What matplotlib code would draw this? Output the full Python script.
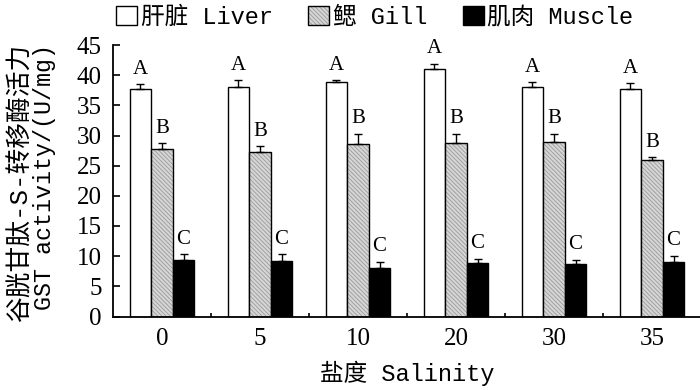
#!/usr/bin/env python3
"""
GST activity of liver, gill and muscle at different salinities.

Grouped bar chart with upper error bars and significance letters.
"""

import matplotlib
matplotlib.use('Agg')
import matplotlib.pyplot as plt
from matplotlib.patches import Patch
import numpy as np

# Data
salinity = ['0', '5', '10', '20', '30', '35']
liver = [37.7, 38.1, 38.8, 41.0, 38.0, 37.7]
liver_err = [0.8, 1.1, 0.4, 0.9, 0.8, 1.0]
gill = [27.7, 27.2, 28.6, 28.7, 29.0, 25.9]
gill_err = [1.0, 1.0, 1.7, 1.6, 1.3, 0.5]
muscle = [9.3, 9.2, 8.0, 8.8, 8.7, 9.0]
muscle_err = [1.0, 1.1, 1.1, 0.8, 0.7, 1.1]
letters = ['A', 'B', 'C']

series_labels = ['肝脏 Liver', '鳃 Gill', '肌肉 Muscle']
xlabel = '盐度 Salinity'
ylabel_cn = '谷胱甘肽-S-转移酶活力'
ylabel_en = 'GST activity/(U/mg)'

MIXED = ['Liberation Mono', 'Noto Sans CJK SC']
SERIF = ['Liberation Serif', 'DejaVu Serif']
GILL_FACE = '#d6d6d6'
GILL_HATCH = '#9a9a9a'
HATCH = '\\' * 8


def make_plot():
    plt.rcParams['hatch.linewidth'] = 0.6

    fig = plt.figure(figsize=(7, 3.9), dpi=100)
    ax = fig.add_axes([113 / 700, 73.5 / 390, 588 / 700, 271.5 / 390])

    x = np.arange(len(salinity))
    w = 0.22
    ekw = dict(ecolor='black', elinewidth=1.0, capsize=2.6, capthick=1.0)

    # liver: white
    ax.bar(x - w, liver, w, color='white', edgecolor='black', linewidth=1.0, zorder=2)
    ax.errorbar(x - w, liver, yerr=[np.zeros(len(x)), liver_err], fmt='none', zorder=3, **ekw)

    # gill: grey with fine hatch, outline drawn on top
    ax.bar(x, gill, w, color=GILL_FACE, edgecolor=GILL_HATCH, linewidth=0, hatch=HATCH, zorder=2)
    ax.bar(x, gill, w, fill=False, edgecolor='black', linewidth=1.0, zorder=2)
    ax.errorbar(x, gill, yerr=[np.zeros(len(x)), gill_err], fmt='none', zorder=3, **ekw)

    # muscle: black
    ax.bar(x + w, muscle, w, color='black', edgecolor='black', linewidth=1.0, zorder=2)
    ax.errorbar(x + w, muscle, yerr=[np.zeros(len(x)), muscle_err], fmt='none', zorder=3, **ekw)

    # significance letters above the caps
    for off, vals, errs, let in zip([-w, 0, w], [liver, gill, muscle],
                                    [liver_err, gill_err, muscle_err], letters):
        for xi, v, e in zip(x, vals, errs):
            ax.annotate(let, (xi + off, v + e), xytext=(0, 7.5), textcoords='offset points',
                        ha='center', va='baseline', fontsize=15, family=SERIF)

    # axes
    ax.set_xlim(-0.5, 5.5)
    ax.set_ylim(0, 45)
    ax.set_yticks(np.arange(0, 46, 5))
    ax.set_xticks(x)
    ax.set_xticklabels(salinity)
    ax.set_xticks(x[:-1] + 0.5, minor=True)
    ax.tick_params(axis='x', which='major', length=0, pad=8)
    ax.tick_params(axis='x', which='minor', direction='in', length=3, width=1.2)
    ax.tick_params(axis='y', direction='in', length=5, width=1.2, pad=8)
    for lab in ax.get_xticklabels() + ax.get_yticklabels():
        lab.set_family(SERIF)
        lab.set_fontsize(18)
    for side in ['top', 'right']:
        ax.spines[side].set_visible(False)
    for side in ['left', 'bottom']:
        ax.spines[side].set_linewidth(1.3)

    ax.set_xlabel(xlabel, family=MIXED, fontsize=17, labelpad=8)
    fig.text(20 / 700, 1 - 183 / 390, ylabel_cn, rotation=90, ha='center', va='center',
             family=MIXED, fontsize=18.5)
    fig.text(45 / 700, 1 - 177 / 390, ylabel_en, rotation=90, ha='center', va='center',
             family=MIXED, fontsize=16.8)

    # legend
    handles = [
        Patch(facecolor='white', edgecolor='black', linewidth=1.0),
        (Patch(facecolor=GILL_FACE, edgecolor=GILL_HATCH, linewidth=0, hatch=HATCH),
         Patch(fill=False, edgecolor='black', linewidth=1.0)),
        Patch(facecolor='black', edgecolor='black', linewidth=1.0),
    ]
    fig.legend(handles, series_labels, loc='center left', bbox_to_anchor=(116 / 700, 1 - 17 / 390),
               ncol=3, frameon=False, borderpad=0, borderaxespad=0,
               handlelength=0.9, handleheight=0.9, handletextpad=0.15, columnspacing=1.5,
               prop={'family': MIXED, 'size': 17})

    fig.savefig('out.png', dpi=100)
    plt.close(fig)


if __name__ == '__main__':
    make_plot()
